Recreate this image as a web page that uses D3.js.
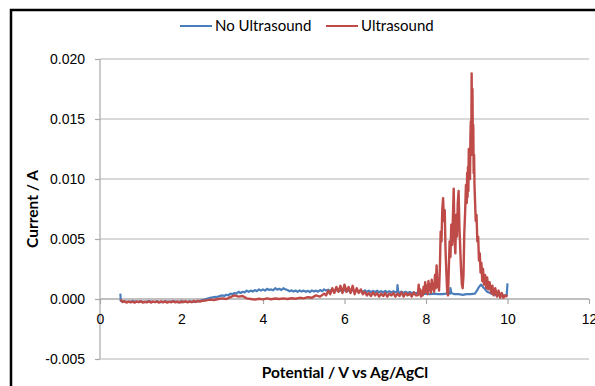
<!DOCTYPE html>
<html>
<head>
<meta charset="utf-8">
<script src="https://cdn.jsdelivr.net/npm/d3@7/dist/d3.min.js"></script>
<style>
  html, body { margin: 0; padding: 0; background: #fff; }
  svg { display: block; font-family: Lato, "Liberation Sans", sans-serif; }
  .grid line { stroke: #b4b4b4; stroke-width: 1.2; }
  .eixo path { display: none; }
  .eixo line { stroke: #a8a8a8; stroke-width: 1.2; }
  .eixo text { font-size: 14px; fill: #000; }
  .titulo { font-size: 15.5px; font-weight: bold; }
</style>
</head>
<body>
<div id="chart"></div>
<script>
// tick values
const xTicks = [0, 2, 4, 6, 8, 10, 12];
const yTicks = [-0.005, 0, 0.005, 0.010, 0.015, 0.020];

// No Ultrasound: potential (V) and current (mA)
const potentialNoUS = [0.50, 0.51, 0.6, 0.7, 0.8, 0.9, 1.0, 1.1, 1.2, 1.3, 1.4, 1.5, 1.6, 1.7, 1.8, 1.9, 2.0, 2.1, 2.2, 2.3, 2.4,
  2.5, 2.6, 2.7, 2.8, 2.9, 3.0, 3.05, 3.1, 3.15, 3.2, 3.25, 3.3, 3.35, 3.4, 3.45, 3.5, 3.55, 3.6, 3.65, 3.7, 3.75, 3.8, 3.85, 3.9, 3.95,
  4.0, 4.05, 4.1, 4.15, 4.2, 4.25, 4.3, 4.35, 4.4, 4.45, 4.5, 4.55, 4.6, 4.65, 4.7, 4.75, 4.8, 4.85, 4.9, 4.95,
  5.0, 5.05, 5.1, 5.15, 5.2, 5.25, 5.3, 5.35, 5.4, 5.45, 5.5, 5.55, 5.6, 5.65, 5.7, 5.75, 5.8, 5.85, 5.9, 5.95,
  6.0, 6.05, 6.1, 6.15, 6.2, 6.25, 6.3, 6.35, 6.4, 6.45, 6.5, 6.55, 6.6, 6.65, 6.7, 6.75, 6.8, 6.85, 6.9, 6.95,
  7.0, 7.05, 7.1, 7.15, 7.2, 7.25, 7.29, 7.3, 7.32, 7.35, 7.4, 7.45, 7.5, 7.55, 7.6, 7.65, 7.7, 7.75, 7.8, 7.85, 7.9, 7.95,
  8.0, 8.1, 8.2, 8.3, 8.4, 8.5, 8.59, 8.6, 8.62, 8.7, 8.8, 8.9, 9.0, 9.1, 9.2,
  9.25, 9.3, 9.35, 9.4, 9.45, 9.5, 9.6, 9.7, 9.8, 9.9, 9.98, 10.0];
const currentNoUS = [0.45, -0.15, -0.2, -0.25, -0.18, -0.24, -0.2, -0.26, -0.18, -0.25, -0.2, -0.27, -0.2, -0.24, -0.18, -0.26, -0.2, -0.25, -0.19, -0.24, -0.2,
  -0.1, 0.0, 0.1, 0.15, 0.2, 0.3, 0.25, 0.35, 0.3, 0.45, 0.4, 0.5, 0.45, 0.6, 0.5, 0.6, 0.55, 0.7, 0.6, 0.7, 0.62, 0.75, 0.65, 0.8, 0.7,
  0.8, 0.7, 0.85, 0.75, 0.8, 0.72, 0.9, 0.78, 0.85, 0.75, 0.9, 0.8, 0.75, 0.65, 0.72, 0.62, 0.7, 0.6, 0.72, 0.62,
  0.7, 0.6, 0.68, 0.58, 0.72, 0.62, 0.7, 0.6, 0.75, 0.65, 0.8, 0.7, 0.78, 0.68, 0.8, 0.7, 0.75, 0.65, 0.72, 0.62,
  0.75, 0.65, 0.72, 0.6, 0.75, 0.62, 0.7, 0.58, 0.7, 0.6, 0.72, 0.6, 0.7, 0.58, 0.68, 0.58, 0.7, 0.56, 0.66, 0.55,
  0.68, 0.55, 0.66, 0.55, 0.65, 0.55, 0.6, 1.15, 0.6, 0.52, 0.62, 0.5, 0.6, 0.5, 0.58, 0.48, 0.56, 0.46, 0.55, 0.45, 0.52, 0.42,
  0.45, 0.4, 0.45, 0.4, 0.4, 0.45, 0.45, 0.9, 0.5, 0.4, 0.4, 0.35, 0.4, 0.4, 0.45,
  0.7, 1.0, 1.2, 1.0, 0.8, 0.6, 0.45, 0.35, 0.3, 0.3, 0.3, 1.3];

// Ultrasound: potential (V) and current (mA)
const potentialUS = [0.50, 0.55, 0.6, 0.65, 0.7, 0.75, 0.8, 0.85, 0.9, 0.95, 1.0, 1.05, 1.1, 1.15, 1.2, 1.25, 1.3, 1.35, 1.4, 1.45,
  1.5, 1.55, 1.6, 1.65, 1.7, 1.75, 1.8, 1.85, 1.9, 1.95, 2.0, 2.05, 2.1, 2.15, 2.2, 2.25, 2.3, 2.35, 2.4, 2.45,
  2.5, 2.6, 2.7, 2.8, 2.9, 3.0, 3.1, 3.2, 3.3, 3.4, 3.5, 3.6, 3.7, 3.8, 3.9, 4.0, 4.1, 4.2, 4.3, 4.4, 4.5, 4.6, 4.7, 4.8, 4.9,
  5.0, 5.1, 5.2, 5.3, 5.4, 5.5, 5.55, 5.6, 5.65, 5.7, 5.75, 5.8, 5.85, 5.9, 5.95, 6.0, 6.05, 6.1, 6.15, 6.2, 6.25, 6.3, 6.35, 6.4, 6.45,
  6.5, 6.55, 6.6, 6.65, 6.7, 6.75, 6.8, 6.85, 6.9, 6.95, 7.0, 7.05, 7.1, 7.15, 7.2, 7.25, 7.3, 7.35, 7.4, 7.45, 7.5, 7.55, 7.6, 7.65, 7.7, 7.75,
  7.80, 7.82, 7.84, 7.86, 7.88, 7.90, 7.92, 7.94, 7.96, 7.98, 8.00, 8.02, 8.04, 8.06, 8.08, 8.10, 8.12, 8.14, 8.16, 8.18,
  8.20, 8.22, 8.24, 8.26, 8.28, 8.30, 8.32, 8.34, 8.36, 8.38, 8.40, 8.42, 8.44, 8.46, 8.48, 8.50, 8.52, 8.54, 8.56, 8.58,
  8.60, 8.62, 8.64, 8.66, 8.68, 8.70, 8.72, 8.74, 8.76, 8.78, 8.80, 8.82, 8.84, 8.86, 8.88, 8.90, 8.92, 8.94, 8.96, 8.98,
  9.00, 9.01, 9.02, 9.03, 9.04, 9.05, 9.06, 9.07, 9.08, 9.09, 9.10, 9.11, 9.12, 9.13, 9.14, 9.15, 9.16, 9.17, 9.18, 9.19,
  9.20, 9.22, 9.24, 9.26, 9.28, 9.30, 9.32, 9.34, 9.36, 9.38,
  9.40, 9.42, 9.45, 9.48, 9.50, 9.53, 9.56, 9.60, 9.63, 9.66, 9.70, 9.74, 9.78, 9.82, 9.86, 9.90, 9.95, 10.0];
const currentUS = [-0.05, -0.25, -0.18, -0.3, -0.2, -0.28, -0.22, -0.3, -0.2, -0.27, -0.18, -0.3, -0.22, -0.28, -0.18, -0.3, -0.2, -0.27, -0.2, -0.3,
  -0.18, -0.28, -0.2, -0.3, -0.22, -0.27, -0.18, -0.28, -0.2, -0.3, -0.2, -0.26, -0.18, -0.28, -0.2, -0.27, -0.16, -0.25, -0.15, -0.22,
  -0.15, -0.12, -0.05, -0.08, 0.0, 0.05, 0.0, 0.15, 0.3, 0.2, 0.25, 0.05, 0.0, -0.05, 0.02, -0.03, 0.05, -0.02, 0.04, 0.0, 0.05, 0.0, 0.06, 0.02, 0.1,
  0.05, 0.15, 0.1, 0.3, 0.2, 0.45, 0.3, 0.7, 0.4, 0.9, 0.5, 1.0, 0.6, 1.1, 0.5, 1.2, 0.6, 1.0, 0.5, 1.1, 0.4, 0.9, 0.5, 0.8, 0.4,
  0.6, 0.3, 0.5, 0.25, 0.55, 0.3, 0.5, 0.2, 0.45, 0.25, 0.5, 0.2, 0.45, 0.3, 0.5, 0.2, 0.45, 0.25, 0.55, 0.2, 0.5, 0.3, 0.45, 0.2, 0.55, 0.3,
  0.3, 1.2, 0.4, 0.8, 0.2, 0.6, 0.3, 1.0, 0.5, 1.4, 0.6, 1.1, 0.4, 1.5, 0.7, 1.2, 0.5, 1.6, 0.8, 1.3,
  0.6, 2.0, 0.9, 2.8, 1.0, 1.6, 0.7, 2.5, 5.6, 4.8, 7.5, 8.4, 6.5, 7.4, 4.0, 2.2, 0.6, 0.3, 2.5, 4.8,
  3.5, 6.2, 4.5, 6.8, 9.2, 5.0, 3.8, 7.0, 5.2, 8.0, 9.0, 6.0, 4.2, 2.5, 1.2, 0.9, 2.0, 5.5, 7.2, 9.5,
  8.0, 10.5, 8.5, 11.0, 9.0, 12.5, 10.2, 11.8, 10.0, 13.5, 14.8, 12.0, 18.8, 15.0, 17.5, 13.0, 14.5, 10.5, 12.0, 9.5,
  8.5, 6.5, 7.0, 4.8, 5.2, 3.2, 3.8, 2.2, 3.0, 1.5,
  2.5, 1.2, 2.0, 0.9, 1.8, 0.8, 1.4, 0.5, 1.1, 0.3, 0.9, 0.2, 0.7, 0.1, 0.5, 0.1, 0.3, 0.2];

const seriesNames = ['No Ultrasound', 'Ultrasound'];
const seriesColors = ['#4a7ebb', '#be4b48'];

const W = 595, H = 386;
const svg = d3.select('#chart').append('svg').attr('width', W).attr('height', H);

// chart border
svg.append('rect').attr('x', 11).attr('y', 10).attr('width', 620).attr('height', 420)
  .attr('fill', 'none').attr('stroke', '#000').attr('stroke-width', 2.5);

const x = d3.scaleLinear().domain([0, 12]).range([100, 589]);
const y = d3.scaleLinear().domain([-0.005, 0.020]).range([359, 59]);

// gridlines
svg.append('g').attr('class', 'grid')
  .selectAll('line').data(yTicks).join('line')
  .attr('x1', x(0)).attr('x2', x(12))
  .attr('y1', d => y(d)).attr('y2', d => y(d));

// y axis
const fmtY = d => d3.format('.3f')(d).replace('\u2212', '-');
const gy = svg.append('g').attr('class', 'eixo').attr('transform', `translate(${x(0)},0)`)
  .call(d3.axisLeft(y).tickValues(yTicks).tickFormat(fmtY).tickSize(5).tickPadding(10));
gy.append('line').attr('y1', y(0.020)).attr('y2', y(-0.005));

// x axis at y = 0
const gx = svg.append('g').attr('class', 'eixo').attr('transform', `translate(0,${y(0)})`)
  .call(d3.axisBottom(x).tickValues(xTicks).tickFormat(d3.format('d')).tickSize(5).tickPadding(10));
gx.append('line').attr('x1', x(0)).attr('x2', x(12));

// lines
const line = d3.line().x(d => x(d[0])).y(d => y(d[1] / 1000));
const blueData = potentialNoUS.map((v, i) => [v, currentNoUS[i]]);
const redData = potentialUS.map((v, i) => [v, currentUS[i]]);

svg.append('path').datum(blueData).attr('d', line)
  .attr('fill', 'none').attr('stroke', seriesColors[0]).attr('stroke-width', 2.2).attr('stroke-linejoin', 'round');
svg.append('path').datum(redData).attr('d', line)
  .attr('fill', 'none').attr('stroke', seriesColors[1]).attr('stroke-width', 2.4).attr('stroke-linejoin', 'round');

// axis titles
svg.append('text').attr('class', 'titulo').attr('x', 345).attr('y', 378)
  .attr('text-anchor', 'middle').text('Potential / V vs Ag/AgCl');
svg.append('text').attr('class', 'titulo')
  .attr('transform', `translate(38,${y(0.0075)}) rotate(-90)`)
  .attr('text-anchor', 'middle').text('Current / A');

// legend
const legendX = [180, 326];
seriesNames.forEach((n, i) => {
  svg.append('line').attr('x1', legendX[i]).attr('x2', legendX[i] + 32)
    .attr('y1', 26).attr('y2', 26).attr('stroke', seriesColors[i]).attr('stroke-width', 2);
  svg.append('text').attr('x', legendX[i] + 35).attr('y', 31).attr('font-size', 15).text(n);
});
</script>
</body>
</html>
